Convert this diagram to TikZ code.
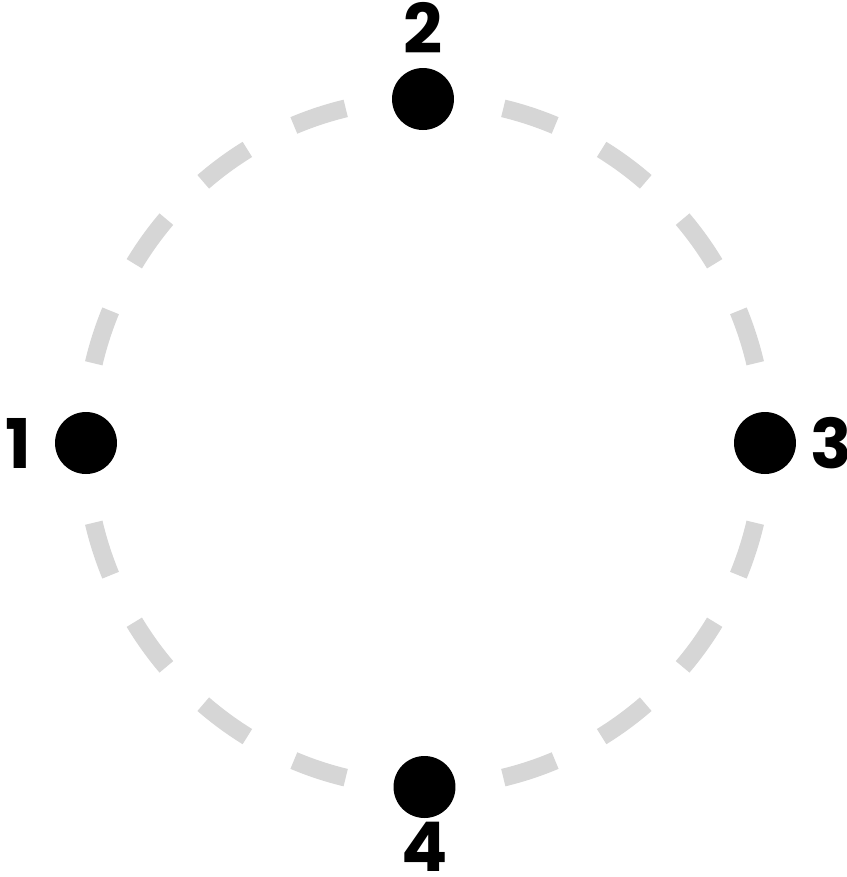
\documentclass[tikz,border=0pt]{standalone}
\usepackage{fontspec}
\setmainfont{Poppins}
\usepackage{tikz}
\usetikzlibrary{positioning,calc}
\definecolor{ink}{HTML}{000000}
\definecolor{dashgrey}{HTML}{D6D6D6}

\begin{document}
\begin{tikzpicture}[x=0.02cm,y=-0.02cm,
  dot/.style={circle,fill=ink,inner sep=0pt,outer sep=0pt,minimum size=1.24cm},
  numlabel/.style={inner sep=0pt,text=ink,font=\fontsize{39}{39}\selectfont\bfseries},
  ringdash/.style={dashgrey,line width=10.2pt}]
  \useasboundingbox (0,0) rectangle (847,877);
  \coordinate (c) at (424.5,443);
  % dashed ring, one dash every 18 degrees
  \foreach \a in {0,18,...,342}
    \draw[ringdash] ($(c)+({340*cos(\a-4.6)},{344*sin(\a-4.6)})$) arc[start angle=\a-4.6,end angle=\a+4.6,x radius=340,y radius=344];
  % the four points
  \node[dot] (d1) at (86,443) {};
  \node[dot] (d2) at (423,99) {};
  \node[dot] (d3) at (765,443) {};
  \node[dot] (d4) at (424.5,787) {};
  \node[numlabel,left=0.46cm of d1] (l1) {1};
  \node[numlabel,above=0.28cm of d2] (l2) {2};
  \node[numlabel,right=0.28cm of d3] (l3) {3};
  \node[numlabel,below=0.08cm of d4] (l4) {4};
\end{tikzpicture}
\end{document}
